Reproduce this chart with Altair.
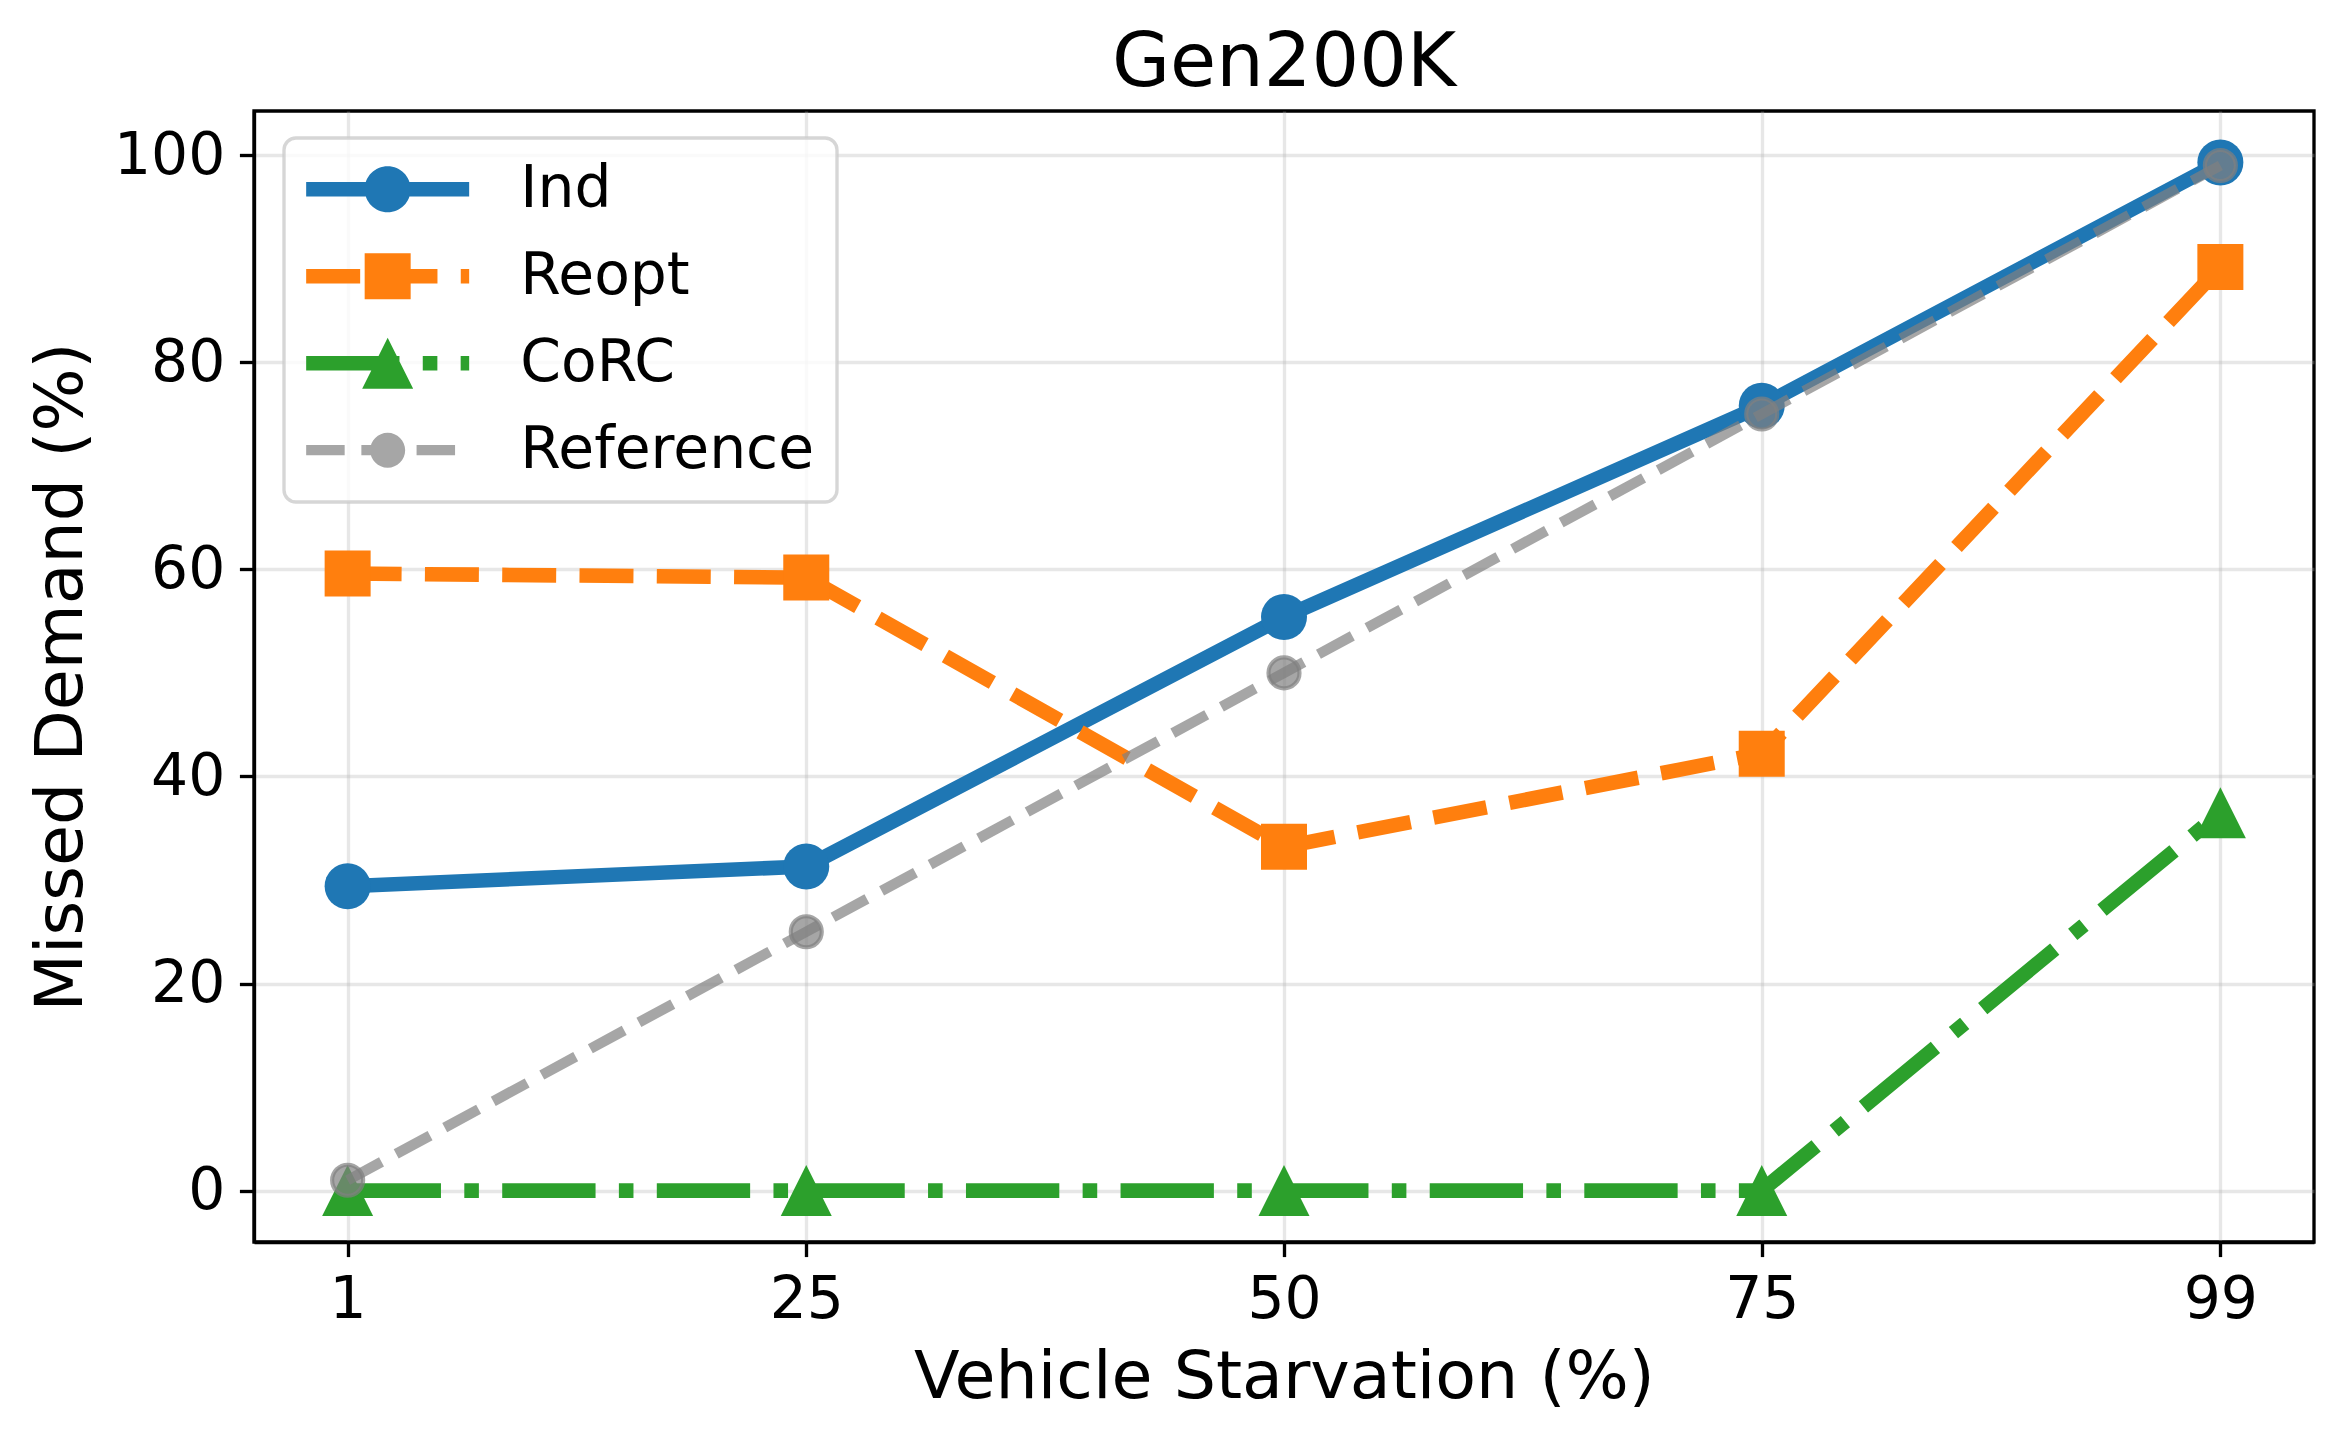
import altair as alt
import pandas as pd

# ---- data ----
starvation = [1, 25, 50, 75, 99]
ind = [29.4, 31.3, 55.4, 75.8, 99.3]
reopt = [59.6, 59.2, 33.2, 42.2, 89.2]
corc = [0, 0, 0, 0, 36.5]
reference = [1, 25, 50, 75, 99]

series_names = ["Ind", "Reopt", "CoRC", "Reference"]
series_values = [ind, reopt, corc, reference]

rows = []
for name, vals in zip(series_names, series_values):
    for xv, yv in zip(starvation, vals):
        rows.append({"series": name, "x": xv, "y": yv})
df = pd.DataFrame(rows)

FONT = "DejaVu Sans"
PT = 300 / 72.0

colors = ["#1f77b4", "#ff7f0e", "#2ca02c", "#808080"]
legend_colors = ["#1f77b4", "#ff7f0e", "#2ca02c", "#a6a6a6"]

# ---- legend symbol paths (line + marker), unit = sqrt(size)/2 ----
S = 58.0          # symbol "size" side in px (keeps legend rows compact)
U = S / 2.0       # path unit in px
HALF = 81.5       # half length of legend handle line in px


def _n(v):
    return f"{v / U:.4f}"


def rect(x0, x1, h):
    return (f"M{_n(x0)},{_n(-h)}L{_n(x1)},{_n(-h)}L{_n(x1)},{_n(h)}"
            f"L{_n(x0)},{_n(h)}Z")


def circ(r):
    return (f"M{_n(r)},0A{_n(r)},{_n(r)},0,1,1,{_n(-r)},0"
            f"A{_n(r)},{_n(r)},0,1,1,{_n(r)},0Z")


def square(a):
    return rect(-a, a, a)


def tri(a):
    return f"M0,{_n(-a)}L{_n(a)},{_n(a)}L{_n(-a)},{_n(a)}Z"


lw = 3.5 * PT / 2
lw_ref = 2.5 * PT / 2
legend_paths = [
    rect(-81.5, 81.5, lw) + circ(23),
    rect(-81.5, -27.5, lw) + rect(-4.2, 49.8, lw) + rect(73.1, 81.5, lw) + square(23),
    rect(-81.5, 11.8, lw) + rect(35.1, 49.7, lw) + rect(73.0, 81.5, lw) + tri(25.5),
    rect(-81.5, -43.0, lw_ref) + rect(-26.3, 12.2, lw_ref) + rect(28.9, 67.4, lw_ref) + circ(17.5),
]

xscale = alt.Scale(domain=[-3.9, 103.9], nice=False, zero=False)
yscale = alt.Scale(domain=[-4.965, 104.265], nice=False, zero=False)

base = alt.Chart(df).encode(
    x=alt.X("x:Q", scale=xscale,
            axis=alt.Axis(values=starvation, title="Vehicle Starvation (%)",
                          labelFlush=False, labelOverlap=False, titlePadding=16)),
    y=alt.Y("y:Q", scale=yscale,
            axis=alt.Axis(values=[0, 20, 40, 60, 80, 100], title="Missed Demand (%)",
                          labelFlush=False, labelOverlap=False, titlePadding=18)),
)

W = 3.5 * PT
line_styles = {
    "Ind": dict(color=colors[0], strokeWidth=W),
    "Reopt": dict(color=colors[1], strokeWidth=W, strokeDash=[3.7 * W, 1.6 * W]),
    "CoRC": dict(color=colors[2], strokeWidth=W,
                 strokeDash=[6.4 * W, 1.6 * W, 1.0 * W, 1.6 * W]),
    "Reference": dict(color=colors[3], strokeWidth=2.5 * PT, opacity=0.7,
                      strokeDash=[3.7 * 2.5 * PT, 1.6 * 2.5 * PT]),
}
point_styles = {
    "Ind": dict(shape="circle", size=46 ** 2, color=colors[0]),
    "Reopt": dict(shape="square", size=46 ** 2, color=colors[1]),
    "CoRC": dict(shape="M0,-1L1,1L-1,1Z", size=51 ** 2, color=colors[2]),
    "Reference": dict(shape="circle", size=31 ** 2, fill=colors[3], fillOpacity=0.7,
                      stroke=colors[3], strokeOpacity=0.7, strokeWidth=1 * PT),
}

layers = []
for name in series_names:
    sel = base.transform_filter(alt.datum.series == name)
    layers.append(sel.mark_line(strokeJoin="round", strokeCap="butt", **line_styles[name]))
    layers.append(sel.mark_point(filled=True, opacity=1, **point_styles[name]))

PAD = 22
legend_kw = dict(
    title=None, orient="none", legendX=30, legendY=27,
    padding=PAD, rowPadding=28,
    symbolOffset=HALF - S / 2, labelOffset=HALF - S / 2 + 51,
    symbolSize=int(S ** 2), symbolStrokeWidth=0,
    symbolOpacity=1, labelFont=FONT, labelFontSize=14 * PT,
    labelColor="black", labelLimit=2000,
    fillColor="rgba(255,255,255,0.8)",
    strokeColor="rgba(204,204,204,0.8)", cornerRadius=12,
)

legend_layer = base.transform_filter("false").mark_point(filled=True, opacity=1).encode(
    color=alt.Color("series:N",
                    scale=alt.Scale(domain=series_names, range=legend_colors),
                    legend=alt.Legend(**legend_kw)),
    shape=alt.Shape("series:N",
                    scale=alt.Scale(domain=series_names, range=legend_paths),
                    legend=alt.Legend(**legend_kw)),
)
layers.append(legend_layer)

chart = alt.layer(*layers).properties(
    width=2060,
    height=1131,
    padding={"left": 254, "top": 111, "right": 26, "bottom": 198},
    autosize=alt.AutoSizeParams(type="none"),
    background="white",
    title=alt.TitleParams("Gen200K", font=FONT, fontSize=18 * PT, fontWeight="normal",
                          color="black", anchor="middle", offset=9),
).configure_view(
    stroke="black", strokeWidth=0.8 * PT
).configure_axis(
    grid=True, gridColor="#b0b0b0", gridOpacity=0.3, gridWidth=0.8 * PT,
    domainColor="black", domainWidth=0.8 * PT,
    tickColor="black", tickWidth=0.8 * PT, tickSize=3.5 * PT,
    labelFont=FONT, labelFontSize=14 * PT, labelColor="black", labelPadding=3.5 * PT,
    titleFont=FONT, titleFontSize=16 * PT, titleFontWeight="normal", titleColor="black",
).configure_legend(
    strokeWidth=0.8 * PT
)

chart.save("out.html", embed_options={"renderer": "svg", "actions": False})
